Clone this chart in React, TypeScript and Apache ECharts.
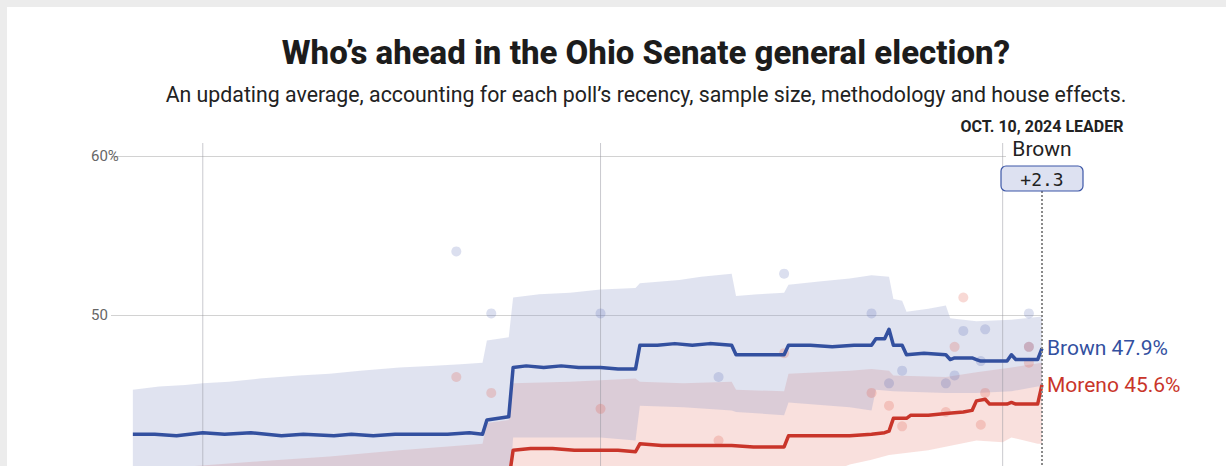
import { useEffect, useRef } from 'react';
import * as echarts from 'echarts';

const TITLE = 'Who’s ahead in the Ohio Senate general election?';
const SUBTITLE =
  'An updating average, accounting for each poll’s recency, sample size, methodology and house effects.';
const AS_OF_LABEL = 'OCT. 10, 2024 LEADER';
const X_MIN = '2024-03-11';
const X_MAX = '2024-10-10';
const Y_MIN = 40;
const Y_MAX = 60;
const Y_STEP = 10;
const MONTH_LINES = ['2024-04-01', '2024-07-01', '2024-10-01'];
const CANDIDATES = ['Brown', 'Moreno'];

type Pt = [string, number];

const brownAvg: Pt[] = [
  ['2024-03-16', 42.5], ['2024-03-21', 42.5], ['2024-03-26', 42.4], ['2024-04-01', 42.6],
  ['2024-04-06', 42.5], ['2024-04-12', 42.6], ['2024-04-19', 42.4], ['2024-04-24', 42.5],
  ['2024-05-01', 42.4], ['2024-05-05', 42.5], ['2024-05-10', 42.4], ['2024-05-15', 42.5],
  ['2024-05-21', 42.5], ['2024-05-27', 42.5], ['2024-06-01', 42.6], ['2024-06-04', 42.5],
  ['2024-06-05', 43.4], ['2024-06-10', 43.6], ['2024-06-11', 46.7], ['2024-06-14', 46.8],
  ['2024-06-18', 46.7], ['2024-06-22', 46.8], ['2024-06-26', 46.7], ['2024-07-01', 46.7],
  ['2024-07-05', 46.6], ['2024-07-09', 46.6], ['2024-07-10', 48.1], ['2024-07-14', 48.1],
  ['2024-07-18', 48.2], ['2024-07-22', 48.1], ['2024-07-26', 48.2], ['2024-07-31', 48.1],
  ['2024-08-01', 47.5], ['2024-08-06', 47.5], ['2024-08-12', 47.5], ['2024-08-13', 48.1],
  ['2024-08-18', 48.1], ['2024-08-23', 48.0], ['2024-08-28', 48.1], ['2024-09-01', 48.1],
  ['2024-09-02', 48.5], ['2024-09-04', 48.5], ['2024-09-05', 49.1], ['2024-09-06', 48.1],
  ['2024-09-08', 48.1], ['2024-09-09', 47.5], ['2024-09-13', 47.6], ['2024-09-18', 47.5],
  ['2024-09-19', 47.2], ['2024-09-20', 47.3], ['2024-09-24', 47.3], ['2024-09-25', 47.2],
  ['2024-09-26', 47.1], ['2024-10-02', 47.1], ['2024-10-03', 47.5], ['2024-10-04', 47.2],
  ['2024-10-09', 47.2], ['2024-10-10', 47.9],
];

const morenoAvg: Pt[] = [
  ['2024-03-16', 38.2], ['2024-04-01', 38.3], ['2024-04-20', 38.3], ['2024-05-10', 38.4],
  ['2024-06-04', 38.5], ['2024-06-05', 39.6], ['2024-06-10', 39.6], ['2024-06-11', 41.5],
  ['2024-06-15', 41.6], ['2024-06-20', 41.6], ['2024-06-25', 41.5], ['2024-07-01', 41.5],
  ['2024-07-05', 41.5], ['2024-07-09', 41.4], ['2024-07-10', 41.9], ['2024-07-15', 41.8],
  ['2024-07-20', 41.8], ['2024-07-25', 41.8], ['2024-07-31', 41.8], ['2024-08-05', 41.7],
  ['2024-08-12', 41.7], ['2024-08-13', 42.4], ['2024-08-20', 42.4], ['2024-08-27', 42.4],
  ['2024-09-01', 42.5], ['2024-09-04', 42.6], ['2024-09-05', 42.7], ['2024-09-06', 43.5],
  ['2024-09-09', 43.5], ['2024-09-10', 43.7], ['2024-09-14', 43.7], ['2024-09-18', 43.8],
  ['2024-09-22', 43.9], ['2024-09-24', 44.0], ['2024-09-25', 44.6], ['2024-09-27', 44.7],
  ['2024-09-28', 44.4], ['2024-10-02', 44.4], ['2024-10-03', 44.5], ['2024-10-04', 44.4],
  ['2024-10-09', 44.4], ['2024-10-10', 45.6],
];

const brownHi: Pt[] = [
  ['2024-03-16', 45.3], ['2024-03-22', 45.5], ['2024-03-28', 45.6], ['2024-04-01', 45.7],
  ['2024-04-07', 45.8], ['2024-04-14', 46.0], ['2024-04-23', 46.2], ['2024-04-30', 46.3],
  ['2024-05-07', 46.5], ['2024-05-16', 46.7], ['2024-05-23', 46.8], ['2024-05-30', 46.9],
  ['2024-06-04', 47.0], ['2024-06-05', 48.4], ['2024-06-10', 48.6], ['2024-06-11', 51.1],
  ['2024-06-17', 51.3], ['2024-06-24', 51.4], ['2024-07-01', 51.6], ['2024-07-09', 51.7],
  ['2024-07-10', 52.0], ['2024-07-19', 52.2], ['2024-07-24', 52.4], ['2024-07-31', 52.6],
  ['2024-08-01', 51.2], ['2024-08-06', 51.3], ['2024-08-12', 51.4], ['2024-08-13', 51.9],
  ['2024-08-20', 52.1], ['2024-08-27', 52.3], ['2024-09-01', 52.5], ['2024-09-05', 52.4],
  ['2024-09-06', 51.0], ['2024-09-08', 50.9], ['2024-09-09', 50.2], ['2024-09-14', 50.4],
  ['2024-09-18', 50.6], ['2024-09-19', 49.8], ['2024-09-25', 49.6], ['2024-10-03', 49.7],
  ['2024-10-10', 49.9],
];

const brownLo: Pt[] = [
  ['2024-03-16', 39.7], ['2024-04-15', 39.3], ['2024-05-15', 38.7], ['2024-06-04', 38.0],
  ['2024-06-05', 38.6], ['2024-06-10', 38.6], ['2024-06-11', 42.3], ['2024-06-24', 42.3],
  ['2024-07-01', 42.3], ['2024-07-09', 42.1], ['2024-07-10', 44.3], ['2024-07-20', 44.2],
  ['2024-07-31', 44.0], ['2024-08-01', 43.9], ['2024-08-12', 43.7], ['2024-08-13', 44.5],
  ['2024-08-27', 44.2], ['2024-09-01', 44.0], ['2024-09-02', 45.3], ['2024-09-06', 45.2],
  ['2024-09-18', 45.1], ['2024-09-25', 45.1], ['2024-10-03', 45.2], ['2024-10-09', 45.5],
  ['2024-10-10', 45.5],
];

const morenoHi: Pt[] = [
  ['2024-03-16', 40.1], ['2024-03-30', 40.5], ['2024-04-14', 40.8], ['2024-04-30', 41.1],
  ['2024-05-16', 41.5], ['2024-05-30', 41.8], ['2024-06-04', 41.9], ['2024-06-05', 43.2],
  ['2024-06-10', 43.4], ['2024-06-11', 45.7], ['2024-06-24', 45.8], ['2024-07-01', 45.9],
  ['2024-07-09', 46.0], ['2024-07-10', 45.8], ['2024-07-20', 45.7], ['2024-07-31', 45.8],
  ['2024-08-01', 45.3], ['2024-08-12', 45.2], ['2024-08-13', 46.3], ['2024-08-27', 46.5],
  ['2024-09-01', 46.6], ['2024-09-05', 46.5], ['2024-09-06', 46.2], ['2024-09-18', 46.1],
  ['2024-09-25', 46.4], ['2024-10-03', 46.7], ['2024-10-10', 47.0],
];

const morenoLo: Pt[] = [
  ['2024-03-16', 34.6], ['2024-06-04', 34.9], ['2024-06-05', 35.6], ['2024-06-10', 35.7],
  ['2024-06-11', 37.4], ['2024-07-09', 37.5], ['2024-07-10', 37.9], ['2024-08-12', 38.1],
  ['2024-08-13', 39.0], ['2024-08-20', 39.8], ['2024-08-27', 40.6], ['2024-09-01', 40.9],
  ['2024-09-05', 41.2], ['2024-09-14', 41.5], ['2024-09-25', 42.1], ['2024-10-01', 42.0],
  ['2024-10-03', 42.3], ['2024-10-09', 41.9], ['2024-10-10', 41.9],
];

const brownPolls: Pt[] = [
  ['2024-05-29', 54.0], ['2024-06-06', 50.1], ['2024-07-01', 50.1], ['2024-07-28', 46.1],
  ['2024-08-12', 52.6], ['2024-09-01', 50.1], ['2024-09-05', 45.7], ['2024-09-08', 46.5],
  ['2024-09-18', 45.7], ['2024-09-20', 46.2], ['2024-09-22', 49.0], ['2024-09-26', 47.1],
  ['2024-09-27', 49.1], ['2024-10-07', 50.1], ['2024-10-07', 48.0],
];

const morenoPolls: Pt[] = [
  ['2024-05-29', 46.1], ['2024-06-06', 45.1], ['2024-07-01', 44.1], ['2024-07-28', 42.1],
  ['2024-08-12', 47.6], ['2024-09-01', 45.1], ['2024-09-05', 44.3], ['2024-09-08', 43.0],
  ['2024-09-18', 43.9], ['2024-09-20', 48.0], ['2024-09-22', 51.1], ['2024-09-26', 43.1],
  ['2024-09-27', 45.1], ['2024-10-07', 47.0], ['2024-10-07', 48.0],
];

const BLUE = '#33509f';
const RED = '#c9352a';
const FONT = 'Roboto, "Noto Sans", sans-serif';

const t = (d: string) => new Date(d + 'T00:00:00Z').getTime();
const toData = (arr: Pt[]) => arr.map(([d, v]) => [t(d), v]);

function bandSeries(hi: Pt[], lo: Pt[], fill: string, z: number) {
  return {
    type: 'custom',
    z,
    silent: true,
    clip: false,
    data: [[t(hi[0][0]), hi[0][1]]],
    encode: { x: 0, y: 1 },
    renderItem: (_p: any, api: any) => {
      const top = hi.map(([d, v]) => api.coord([t(d), v]));
      const bot = lo
        .slice()
        .reverse()
        .map(([d, v]) => api.coord([t(d), v]));
      return { type: 'polygon', shape: { points: top.concat(bot) }, style: { fill } };
    },
  };
}

export default function App() {
  const ref = useRef<HTMLDivElement>(null);

  useEffect(() => {
    document.body.style.margin = '7px 0 0 7px';
    document.body.style.background = '#ececec';
    document.body.style.overflow = 'hidden';
    if (!ref.current) return;
    const chart = echarts.init(ref.current, undefined, { renderer: 'svg' });

    const brownLast = brownAvg[brownAvg.length - 1][1];
    const morenoLast = morenoAvg[morenoAvg.length - 1][1];
    const leader = brownLast >= morenoLast ? CANDIDATES[0] : CANDIDATES[1];
    const margin = '+' + Math.abs(brownLast - morenoLast).toFixed(1);

    const option: any = {
      animation: false,
      backgroundColor: '#ffffff',
      textStyle: { fontFamily: FONT },
      grid: {
        left: 104,
        right: 184,
        top: 149,
        bottom: -8,
        containLabel: false,
        outerBoundsMode: 'none',
      },
      xAxis: {
        type: 'time',
        min: t(X_MIN),
        max: t(X_MAX),
        axisLine: { show: false },
        axisTick: { show: false },
        axisLabel: { show: false },
        splitLine: { show: false },
      },
      yAxis: {
        type: 'value',
        min: Y_MIN,
        max: Y_MAX,
        interval: Y_STEP,
        axisLine: { show: false },
        axisTick: { show: false },
        axisLabel: {
          align: 'left',
          margin: 20,
          color: '#666',
          fontSize: 15,
          fontFamily: FONT,
          formatter: (v: number) => (v === Y_MAX ? v + '%' : v === Y_MIN ? '' : String(v)),
        },
        splitLine: { lineStyle: { color: '#d2d2d2', width: 1 } },
      },
      graphic: [
        {
          type: 'text',
          x: 639,
          y: 45,
          style: {
            text: TITLE,
            align: 'center',
            verticalAlign: 'middle',
            fontSize: 33,
            fontWeight: 800,
            fontFamily: FONT,
            fill: '#1c1c1c',
          },
        },
        {
          type: 'text',
          x: 639,
          y: 87,
          style: {
            text: SUBTITLE,
            align: 'center',
            verticalAlign: 'middle',
            fontSize: 21.3,
            fontFamily: FONT,
            fill: '#222',
          },
        },
      ],
      series: [
        bandSeries(morenoHi, morenoLo, 'rgba(235,152,142,0.3)', 1),
        bandSeries(brownHi, brownLo, 'rgba(140,151,199,0.27)', 2),
        {
          type: 'custom',
          z: 3,
          silent: true,
          clip: false,
          data: MONTH_LINES.map((d) => [t(d), Y_MAX]),
          encode: { x: 0, y: 1 },
          renderItem: (_p: any, api: any) => {
            const top = api.coord([api.value(0), Y_MAX]);
            const bot = api.coord([api.value(0), Y_MIN]);
            return {
              type: 'line',
              shape: { x1: top[0], y1: top[1] - 13, x2: top[0], y2: bot[1] },
              style: { stroke: 'rgba(150,150,160,0.5)', lineWidth: 1 },
            };
          },
        },
        {
          type: 'scatter',
          z: 4,
          silent: true,
          symbolSize: 10,
          data: toData(brownPolls),
          itemStyle: { color: 'rgba(70,90,170,0.24)' },
        },
        {
          type: 'scatter',
          z: 4,
          silent: true,
          symbolSize: 10,
          data: toData(morenoPolls),
          itemStyle: { color: 'rgba(225,90,75,0.29)' },
        },
        {
          name: CANDIDATES[1],
          type: 'line',
          z: 5,
          silent: true,
          showSymbol: false,
          symbol: 'none',
          data: toData(morenoAvg),
          lineStyle: { color: RED, width: 3.5, join: 'round' },
          endLabel: {
            show: true,
            distance: 5,
            color: RED,
            fontSize: 21,
            fontFamily: FONT,
            formatter: (p: any) => `${p.seriesName} ${p.value[1].toFixed(1)}%`,
          },
        },
        {
          name: CANDIDATES[0],
          type: 'line',
          z: 5,
          silent: true,
          showSymbol: false,
          symbol: 'none',
          data: toData(brownAvg),
          lineStyle: { color: BLUE, width: 3.5, join: 'round' },
          endLabel: {
            show: true,
            distance: 5,
            color: BLUE,
            fontSize: 21,
            fontFamily: FONT,
            formatter: (p: any) => `${p.seriesName} ${p.value[1].toFixed(1)}%`,
          },
        },
        {
          type: 'custom',
          z: 6,
          silent: true,
          clip: false,
          data: [[t(X_MAX), Y_MAX]],
          encode: { x: 0, y: 1 },
          renderItem: (_p: any, api: any) => {
            const top = api.coord([api.value(0), Y_MAX]);
            const bot = api.coord([api.value(0), Y_MIN]);
            const x = top[0];
            const y = top[1];
            return {
              type: 'group',
              children: [
                {
                  type: 'line',
                  shape: { x1: x, y1: y + 35, x2: x, y2: bot[1] },
                  style: { stroke: '#8a8a8a', lineWidth: 2, lineDash: [2, 2] },
                },
                {
                  type: 'rect',
                  shape: { x: x - 36, y: y - 17, width: 72, height: 21 },
                  style: { fill: '#ffffff' },
                },
                {
                  type: 'text',
                  x,
                  y: y - 30,
                  style: {
                    text: AS_OF_LABEL,
                    align: 'center',
                    verticalAlign: 'middle',
                    fontSize: 16,
                    fontWeight: 700,
                    fontFamily: FONT,
                    fill: '#222',
                  },
                },
                {
                  type: 'text',
                  x,
                  y: y - 7,
                  style: {
                    text: leader,
                    align: 'center',
                    verticalAlign: 'middle',
                    fontSize: 21,
                    fontFamily: FONT,
                    fill: '#222',
                  },
                },
                {
                  type: 'rect',
                  shape: { x: x - 41, y: y + 10, width: 82, height: 25, r: 5 },
                  style: { fill: '#dde1f1', stroke: '#3d57a7', lineWidth: 1.2 },
                },
                {
                  type: 'text',
                  x,
                  y: y + 23,
                  style: {
                    text: margin,
                    align: 'center',
                    verticalAlign: 'middle',
                    fontSize: 18,
                    fontFamily: '"DejaVu Sans Mono", monospace',
                    fill: '#222',
                  },
                },
              ],
            };
          },
        },
      ],
    };

    chart.setOption(option);
    return () => chart.dispose();
  }, []);

  return <div ref={ref} style={{ width: 1219, height: 459, background: '#fff' }} />;
}
